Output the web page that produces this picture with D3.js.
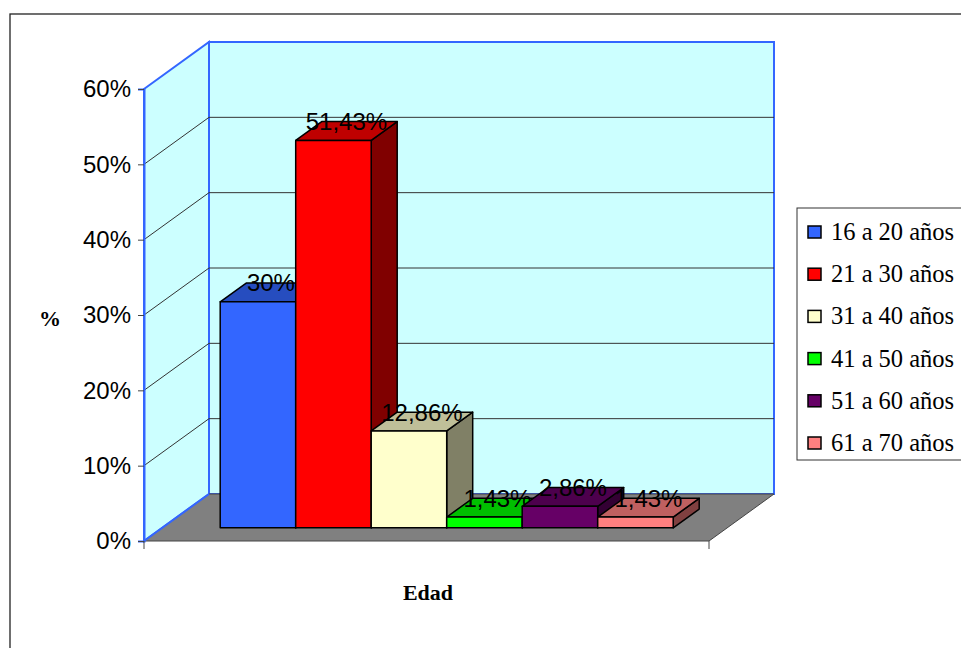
<!DOCTYPE html>
<html lang="es">
<head>
  <meta charset="UTF-8">
  <title>Edad</title>
  <script src="https://cdn.jsdelivr.net/npm/d3@7"></script>
  <style>
    body { margin: 0; background: #fff; }
  </style>
</head>
<body>
  <div id="container"></div>
  <script>
    // data
    var series = ['16 a 20 años', '21 a 30 años', '31 a 40 años', '41 a 50 años', '51 a 60 años', '61 a 70 años'];
    var values = [30, 51.43, 12.86, 1.43, 2.86, 1.43];
    var labels = ['30%', '51,43%', '12,86%', '1,43%', '2,86%', '1,43%'];
    var yTicks = [0, 10, 20, 30, 40, 50, 60];
    var colors = ['#3366FF', '#FF0000', '#FFFFCC', '#00FF00', '#660066', '#FF8080'];

    const W = 961, H = 648;
    // front plane of the 3d box
    const plotLeft = 144, plotRight = 709, plotBottom = 541, plotTop = 89;
    const dx = 65, dy = -47;       // depth vector
    const z0 = 0.28, z1 = 0.68;    // bar depth

    var svg = d3.select('#container').append('svg')
      .attr('width', W).attr('height', H)
      .style('font-family', 'Arial, "Liberation Sans", sans-serif');

    // outer frame
    svg.append('rect').attr('x', 10).attr('y', 14).attr('width', 1000).attr('height', 700)
      .attr('fill', 'none').attr('stroke', '#222').attr('stroke-width', 1.3);

    var y = d3.scaleLinear().domain([0, 60]).range([plotBottom, plotTop]);
    var x = d3.scaleBand().domain(series).range([plotLeft + 58, plotRight - 54]).padding(0);

    function poly(pts) { return 'M' + pts.map(p => p.join(',')).join('L') + 'Z'; }

    // walls
    svg.append('path')
      .attr('d', poly([[plotLeft + dx, y(60) + dy], [plotRight + dx, y(60) + dy], [plotRight + dx, plotBottom + dy], [plotLeft + dx, plotBottom + dy]]))
      .attr('fill', '#CCFFFF').attr('stroke', '#3366FF').attr('stroke-width', 2);
    svg.append('path')
      .attr('d', poly([[plotLeft, y(60)], [plotLeft + dx, y(60) + dy], [plotLeft + dx, plotBottom + dy], [plotLeft, plotBottom]]))
      .attr('fill', '#CCFFFF').attr('stroke', '#3366FF').attr('stroke-width', 2);

    // gridlines
    var grid = svg.append('g').attr('stroke', '#333').attr('stroke-width', 1);
    yTicks.filter(t => t > 0 && t < 60).forEach(function (t) {
      grid.append('path')
        .attr('d', 'M' + plotLeft + ',' + y(t) + 'L' + (plotLeft + dx) + ',' + (y(t) + dy) + 'L' + (plotRight + dx) + ',' + (y(t) + dy))
        .attr('fill', 'none');
    });

    // floor
    svg.append('path')
      .attr('d', poly([[plotLeft, plotBottom], [plotRight, plotBottom], [plotRight + dx, plotBottom + dy], [plotLeft + dx, plotBottom + dy]]))
      .attr('fill', '#808080').attr('stroke', '#444').attr('stroke-width', 1);
    svg.append('line')
      .attr('x1', plotLeft).attr('y1', plotBottom).attr('x2', plotLeft + dx).attr('y2', plotBottom + dy)
      .attr('stroke', '#3366FF').attr('stroke-width', 2);

    // y axis
    var yAxis = d3.axisLeft(y).tickValues(yTicks).tickSize(6).tickPadding(7)
      .tickFormat(d => d + '%');
    var ag = svg.append('g').attr('transform', 'translate(' + plotLeft + ',0)').call(yAxis);
    ag.select('.domain').attr('stroke', '#3366FF').attr('stroke-width', 2);
    ag.selectAll('.tick line').attr('stroke', '#444');
    ag.selectAll('.tick text').attr('font-size', 24).attr('fill', '#000')
      .attr('font-family', 'Arial, "Liberation Sans", sans-serif');

    // x axis ticks
    svg.append('g').attr('stroke', '#444')
      .selectAll('line').data([plotLeft, plotRight]).enter().append('line')
      .attr('x1', d => d).attr('x2', d => d).attr('y1', plotBottom).attr('y2', plotBottom + 8);

    // bars (drawn left to right so the next bar covers the previous side)
    var ox = dx * z0, oy = dy * z0;
    var bx = dx * (z1 - z0), by = dy * (z1 - z0);
    var y0 = y(0) + oy;

    series.forEach(function (s, i) {
      var c = d3.color(colors[i]);
      var x0 = x(s) + ox, x1 = x(s) + x.bandwidth() + ox;
      var yt = y(values[i]) + oy;
      var g = svg.append('g').attr('stroke', '#000').attr('stroke-width', 1.5).attr('stroke-linejoin', 'round');
      g.append('path').attr('d', poly([[x1, yt], [x1 + bx, yt + by], [x1 + bx, y0 + by], [x1, y0]]))
        .attr('fill', d3.rgb(c.r * 0.5, c.g * 0.5, c.b * 0.5).formatHex());
      g.append('path').attr('d', poly([[x0, yt], [x0 + bx, yt + by], [x1 + bx, yt + by], [x1, yt]]))
        .attr('fill', d3.rgb(c.r * 0.75, c.g * 0.75, c.b * 0.75).formatHex());
      g.append('rect').attr('x', x0).attr('y', yt).attr('width', x1 - x0).attr('height', y0 - yt)
        .attr('fill', colors[i]);
      svg.append('text')
        .attr('x', (x0 + x1) / 2 + bx / 2).attr('y', yt + by / 2 - 1)
        .attr('text-anchor', 'middle').attr('font-size', 24).attr('fill', '#000')
        .text(labels[i]);
    });

    // axis titles
    svg.append('text').attr('x', 50).attr('y', 326).attr('text-anchor', 'middle')
      .attr('font-family', '"Liberation Serif", "Times New Roman", serif')
      .attr('font-weight', 'bold').attr('font-size', 22).text('%');
    svg.append('text').attr('x', 428).attr('y', 600).attr('text-anchor', 'middle')
      .attr('font-family', '"Liberation Serif", "Times New Roman", serif')
      .attr('font-weight', 'bold').attr('font-size', 22).text('Edad');

    // legend
    var lg = svg.append('g').attr('font-family', '"Liberation Serif", "Times New Roman", serif');
    lg.append('rect').attr('x', 797).attr('y', 208).attr('width', 200).attr('height', 252)
      .attr('fill', '#fff').attr('stroke', '#333').attr('stroke-width', 1);
    var ly = d3.scalePoint().domain(series).range([232, 443]);
    series.forEach(function (s, i) {
      lg.append('rect').attr('x', 808).attr('y', ly(s) - 6).attr('width', 13).attr('height', 12)
        .attr('fill', colors[i]).attr('stroke', '#000').attr('stroke-width', 1.5);
      lg.append('text').attr('x', 831).attr('y', ly(s) + 8).attr('font-size', 24.5).text(s);
    });
  </script>
</body>
</html>
